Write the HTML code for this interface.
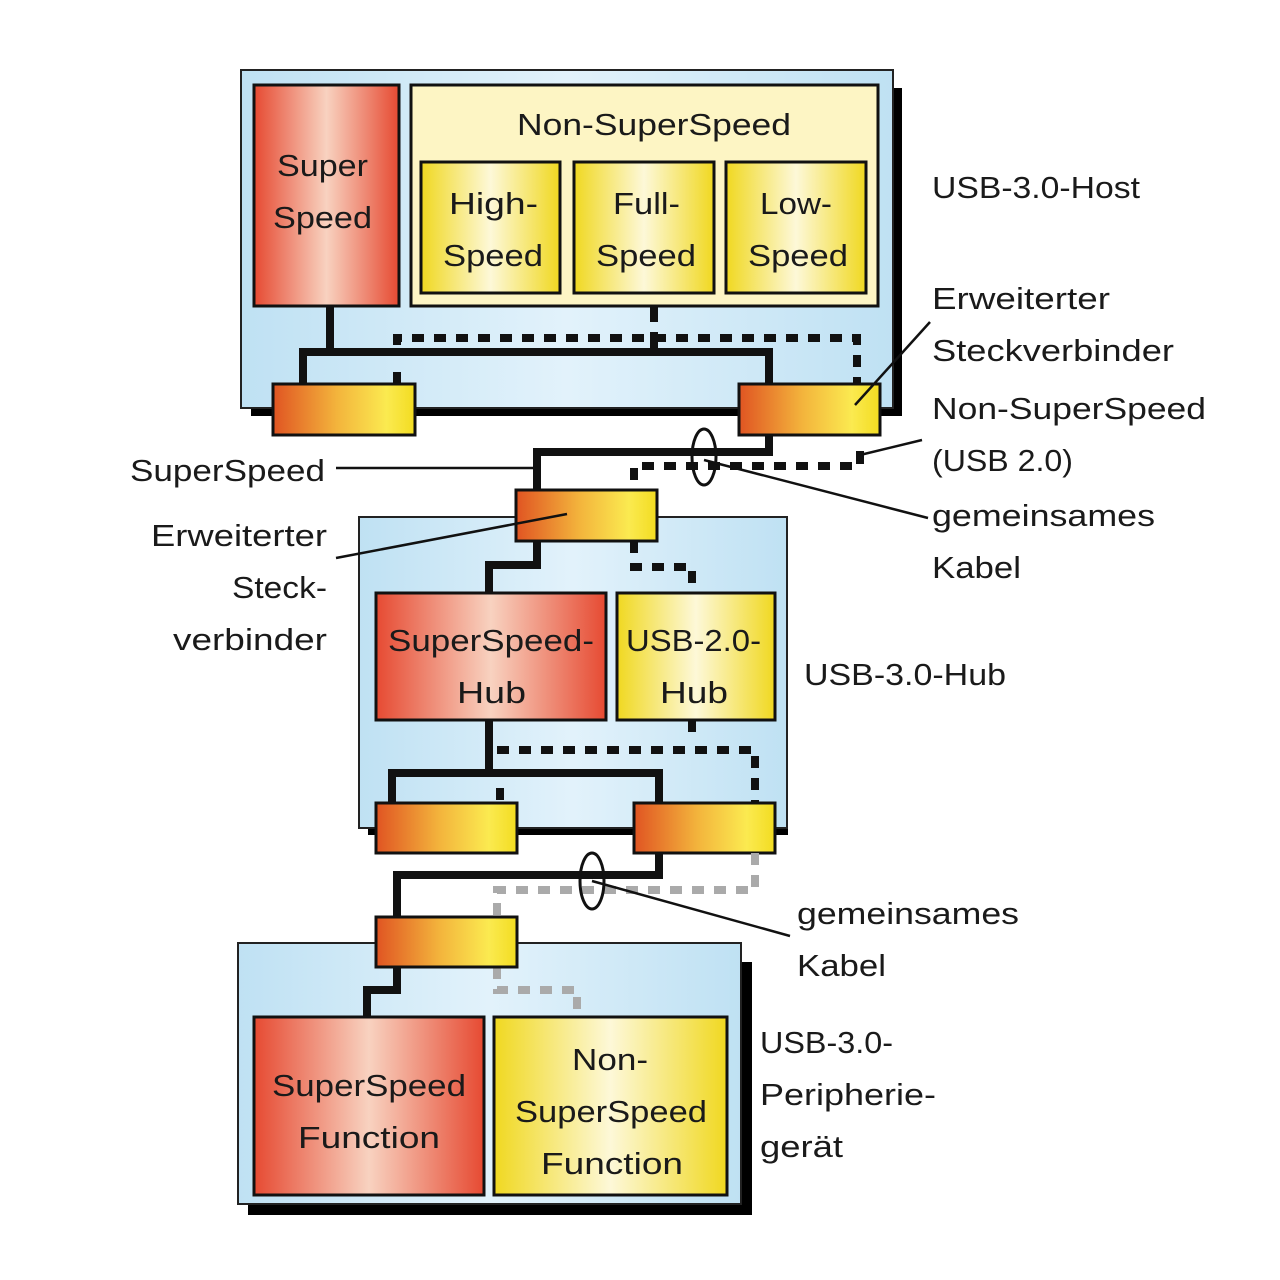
<!DOCTYPE html>
<html><head><meta charset="utf-8"><style>
html,body{margin:0;padding:0;background:#fff}
svg{display:block}
text{font-family:"Liberation Sans",sans-serif;font-size:31px;fill:#1a1a1a}
</style></head><body>
<svg width="1280" height="1280" viewBox="0 0 1280 1280" xmlns="http://www.w3.org/2000/svg">
<defs>
<linearGradient id="red" x1="0" x2="1" y1="0" y2="0"><stop offset="0" stop-color="#e64a32"/><stop offset="0.5" stop-color="#f8d2c0"/><stop offset="1" stop-color="#e64a32"/></linearGradient>
<linearGradient id="yel" x1="0" x2="1" y1="0" y2="0"><stop offset="0" stop-color="#f0d820"/><stop offset="0.5" stop-color="#fdf8d8"/><stop offset="1" stop-color="#f0d820"/></linearGradient>
<linearGradient id="con" x1="0" x2="1" y1="0" y2="0"><stop offset="0" stop-color="#e05422"/><stop offset="0.45" stop-color="#f3b43c"/><stop offset="0.8" stop-color="#fbea50"/><stop offset="1" stop-color="#f2dc20"/></linearGradient>
<linearGradient id="blu" x1="0" x2="1" y1="0" y2="0"><stop offset="0" stop-color="#bfe1f3"/><stop offset="0.5" stop-color="#e2f2fb"/><stop offset="1" stop-color="#bfe1f3"/></linearGradient>
</defs>
<rect width="1280" height="1280" fill="#fff"/>

<!-- HOST -->
<rect x="251" y="88" width="651" height="328" fill="#000"/>
<rect x="241" y="70" width="652" height="338" fill="url(#blu)" stroke="#222" stroke-width="2"/>
<rect x="254" y="85" width="145" height="221" fill="url(#red)" stroke="#111" stroke-width="3"/>
<rect x="411" y="85" width="467" height="221" fill="#fdf5c4" stroke="#111" stroke-width="3"/>
<rect x="421" y="162" width="139" height="131" fill="url(#yel)" stroke="#111" stroke-width="3"/>
<rect x="574" y="162" width="140" height="131" fill="url(#yel)" stroke="#111" stroke-width="3"/>
<rect x="726" y="162" width="140" height="131" fill="url(#yel)" stroke="#111" stroke-width="3"/>
<g fill="none" stroke="#111" stroke-width="8">
<path d="M330 306 V352 M303 384 V352 H769 V384"/>
<path d="M654 306 V322 M654 332 V348"/>
</g>
<path d="M397 384 V366 M397 345 V338 H857 V384" fill="none" stroke="#111" stroke-width="8" stroke-dasharray="12 10"/>
<rect x="273" y="384" width="142" height="51" fill="url(#con)" stroke="#111" stroke-width="3"/>
<rect x="739" y="384" width="141" height="51" fill="url(#con)" stroke="#111" stroke-width="3"/>

<!-- host-hub cable -->
<path d="M769 435 V452 H537 V490" fill="none" stroke="#111" stroke-width="8"/>
<path d="M860 452 V466 H634 V490" fill="none" stroke="#111" stroke-width="8" stroke-dasharray="12 10"/>
<ellipse cx="704" cy="457" rx="12" ry="28" fill="none" stroke="#111" stroke-width="3"/>

<!-- HUB -->
<rect x="368" y="535" width="420" height="300" fill="#000"/>
<rect x="359" y="517" width="428" height="311" fill="url(#blu)" stroke="#222" stroke-width="2"/>
<path d="M537 541 V565 H489 V593" fill="none" stroke="#111" stroke-width="8"/>
<path d="M634 541 V567 H692 V593" fill="none" stroke="#111" stroke-width="8" stroke-dasharray="12 10"/>
<rect x="516" y="490" width="141" height="51" fill="url(#con)" stroke="#111" stroke-width="3"/>
<rect x="376" y="593" width="230" height="127" fill="url(#red)" stroke="#111" stroke-width="3"/>
<rect x="617" y="593" width="158" height="127" fill="url(#yel)" stroke="#111" stroke-width="3"/>
<path d="M489 720 V772 M392 803 V773 H659 V803" fill="none" stroke="#111" stroke-width="8"/>
<path d="M692 720 V736 M497 750 H755 V803 M500 788 V803" fill="none" stroke="#111" stroke-width="8" stroke-dasharray="12 10"/>
<rect x="376" y="803" width="141" height="50" fill="url(#con)" stroke="#111" stroke-width="3"/>
<rect x="634" y="803" width="141" height="50" fill="url(#con)" stroke="#111" stroke-width="3"/>

<!-- hub-periph cable -->
<path d="M659 853 V875 H397 V917" fill="none" stroke="#111" stroke-width="8"/>
<path d="M755 853 V890 H497 V917 M497 967 V990 H577 V1017" fill="none" stroke="#aaa" stroke-width="8" stroke-dasharray="12 10"/>
<ellipse cx="592" cy="881" rx="12" ry="28" fill="none" stroke="#111" stroke-width="3"/>

<!-- PERIPH -->
<rect x="248" y="962" width="504" height="253" fill="#000"/>
<rect x="238" y="943" width="503" height="261" fill="url(#blu)" stroke="#222" stroke-width="2"/>
<path d="M497 967 V990 H577 V1017" fill="none" stroke="#aaa" stroke-width="8" stroke-dasharray="12 10"/>
<path d="M397 967 V990 H367 V1017" fill="none" stroke="#111" stroke-width="8"/>
<rect x="376" y="917" width="141" height="50" fill="url(#con)" stroke="#111" stroke-width="3"/>
<rect x="254" y="1017" width="230" height="178" fill="url(#red)" stroke="#111" stroke-width="3"/>
<rect x="494" y="1017" width="233" height="178" fill="url(#yel)" stroke="#111" stroke-width="3"/>

<!-- leader lines -->
<g stroke="#111" stroke-width="2.5" fill="none">
<path d="M855 405 L930 322"/>
<path d="M860 455 L922 440"/>
<path d="M704 460 L928 518"/>
<path d="M336 468 H535"/>
<path d="M336 558 L567 514"/>
<path d="M592 881 L790 936"/>
</g>
<rect x="856" y="451" width="8" height="8" fill="#111"/>

<!-- box texts -->
<g>
<text x="277" y="176" textLength="91" lengthAdjust="spacingAndGlyphs">Super</text>
<text x="273" y="228" textLength="99" lengthAdjust="spacingAndGlyphs">Speed</text>
<text x="517" y="135" textLength="274" lengthAdjust="spacingAndGlyphs">Non-SuperSpeed</text>
<text x="449" y="214" textLength="89" lengthAdjust="spacingAndGlyphs">High-</text>
<text x="443" y="266" textLength="100" lengthAdjust="spacingAndGlyphs">Speed</text>
<text x="613" y="214" textLength="67" lengthAdjust="spacingAndGlyphs">Full-</text>
<text x="596" y="266" textLength="100" lengthAdjust="spacingAndGlyphs">Speed</text>
<text x="760" y="214" textLength="72" lengthAdjust="spacingAndGlyphs">Low-</text>
<text x="748" y="266" textLength="100" lengthAdjust="spacingAndGlyphs">Speed</text>
<text x="388" y="651" textLength="206" lengthAdjust="spacingAndGlyphs">SuperSpeed-</text>
<text x="457" y="703" textLength="69" lengthAdjust="spacingAndGlyphs">Hub</text>
<text x="626" y="651" textLength="135" lengthAdjust="spacingAndGlyphs">USB-2.0-</text>
<text x="660" y="703" textLength="68" lengthAdjust="spacingAndGlyphs">Hub</text>
<text x="272" y="1096" textLength="194" lengthAdjust="spacingAndGlyphs">SuperSpeed</text>
<text x="298" y="1148" textLength="142" lengthAdjust="spacingAndGlyphs">Function</text>
<text x="572" y="1070" textLength="76" lengthAdjust="spacingAndGlyphs">Non-</text>
<text x="515" y="1122" textLength="192" lengthAdjust="spacingAndGlyphs">SuperSpeed</text>
<text x="541" y="1174" textLength="142" lengthAdjust="spacingAndGlyphs">Function</text>
</g>

<!-- right labels -->
<text x="932" y="198" textLength="208" lengthAdjust="spacingAndGlyphs">USB-3.0-Host</text>
<text x="932" y="309" textLength="178" lengthAdjust="spacingAndGlyphs">Erweiterter</text>
<text x="932" y="361" textLength="242" lengthAdjust="spacingAndGlyphs">Steckverbinder</text>
<text x="932" y="419" textLength="274" lengthAdjust="spacingAndGlyphs">Non-SuperSpeed</text>
<text x="932" y="471" textLength="141" lengthAdjust="spacingAndGlyphs">(USB 2.0)</text>
<text x="932" y="526" textLength="223" lengthAdjust="spacingAndGlyphs">gemeinsames</text>
<text x="932" y="578" textLength="89" lengthAdjust="spacingAndGlyphs">Kabel</text>
<text x="804" y="685" textLength="202" lengthAdjust="spacingAndGlyphs">USB-3.0-Hub</text>
<text x="797" y="924" textLength="222" lengthAdjust="spacingAndGlyphs">gemeinsames</text>
<text x="797" y="976" textLength="89" lengthAdjust="spacingAndGlyphs">Kabel</text>
<text x="760" y="1053" textLength="133" lengthAdjust="spacingAndGlyphs">USB-3.0-</text>
<text x="760" y="1105" textLength="176" lengthAdjust="spacingAndGlyphs">Peripherie-</text>
<text x="760" y="1157" textLength="83" lengthAdjust="spacingAndGlyphs">gerät</text>

<!-- left labels -->
<text x="130" y="481" textLength="195" lengthAdjust="spacingAndGlyphs">SuperSpeed</text>
<text x="151" y="546" textLength="176" lengthAdjust="spacingAndGlyphs">Erweiterter</text>
<text x="232" y="598" textLength="95" lengthAdjust="spacingAndGlyphs">Steck-</text>
<text x="173" y="650" textLength="154" lengthAdjust="spacingAndGlyphs">verbinder</text>
</svg>
</body></html>
